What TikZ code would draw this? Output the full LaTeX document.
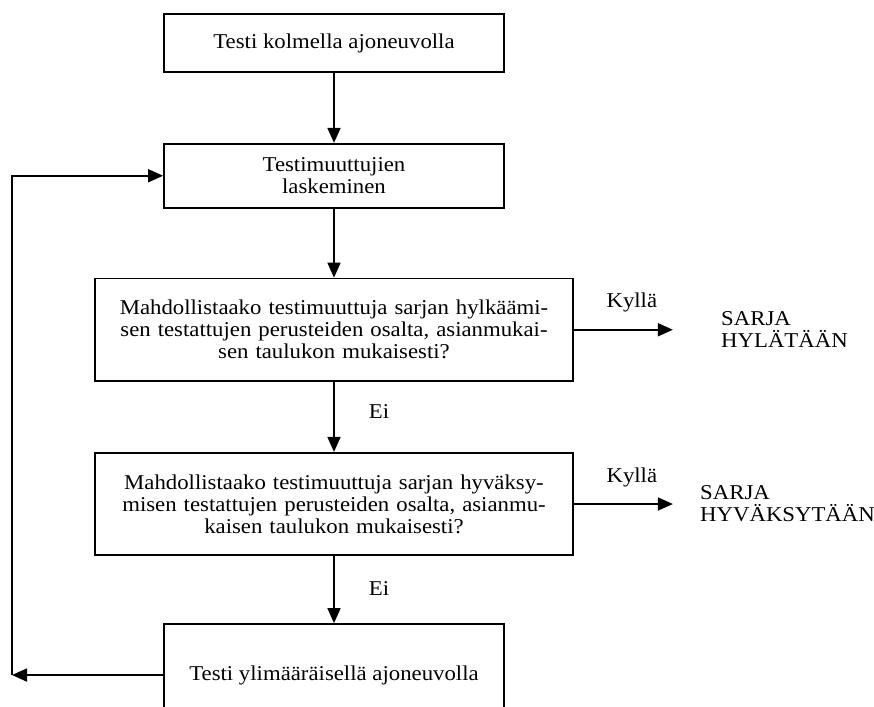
\documentclass[tikz,border=0pt]{standalone}
\usepackage{fontspec}
\setmainfont{Liberation Serif}[FakeStretch=1.08]
\usetikzlibrary{arrows.meta,positioning}
\tikzset{
  >={Triangle[length=3mm,width=2.6mm]},
  process/.style={draw,line width=1pt,minimum width=6.8cm,align=center,inner sep=0pt,font=\fontsize{12}{12.5}\selectfont},
  question/.style={draw,line width=1pt,minimum width=9.56cm,minimum height=2.05cm,text width=8.7cm,align=center,inner sep=0pt,font=\fontsize{12}{12.5}\selectfont},
  flow/.style={->,line width=1pt},
  answer/.style={font=\fontsize{12}{12.5}\selectfont,inner sep=2pt},
  verdict/.style={font=\fontsize{12}{12.5}\selectfont,align=left,anchor=west,inner sep=0pt},
}
\begin{document}
\begin{tikzpicture}
  \clip (0,0) rectangle (17.48,-14.14);
  % boxes
  \node[process,minimum height=1.16cm] (kolme) at (6.68,-0.86) {Testi kolmella ajoneuvolla};
  \node[process,minimum height=1.28cm,below=1.4cm of kolme] (lask) {Testimuuttujien\\laskeminen};
  \node[question,below=1.38cm of lask] (hylk) {Mahdollistaako testimuuttuja sarjan hylkäämi-\\sen testattujen perusteiden osalta, asianmukai-\\sen taulukon mukaisesti?};
  \node[question,below=1.4cm of hylk] (hyv) {Mahdollistaako testimuuttuja sarjan hyväksy-\\misen testattujen perusteiden osalta, asianmu-\\kaisen taulukon mukaisesti?};
  \node[process,minimum height=2.04cm,below=1.34cm of hyv] (ylim) {Testi ylimääräisellä ajoneuvolla};
  % outcomes
  \coordinate[right=1.98cm of hylk] (hylEnd);
  \coordinate[right=1.98cm of hyv] (hyvEnd);
  \node[verdict,right=0.96cm of hylEnd] (hylatty) {SARJA\\HYLÄTÄÄN};
  \node[verdict,right=0.54cm of hyvEnd] (hyvaksytty) {SARJA\\HYVÄKSYTÄÄN};
  % connectors
  \draw[flow] (kolme) -- (lask);
  \draw[flow] (lask) -- (hylk);
  \draw[flow] (hylk) -- node[answer,right=0.61cm,pos=0.43] {Ei} (hyv);
  \draw[flow] (hyv) -- node[answer,right=0.61cm,pos=0.48] {Ei} (ylim);
  \draw[flow] (hylk) -- node[answer,above=0.26cm,xshift=0.17cm] {Kyllä} (hylEnd);
  \draw[flow] (hyv) -- node[answer,above=0.26cm,xshift=0.17cm] {Kyllä} (hyvEnd);
  % back to the start
  \coordinate (paluu) at (0.24,0);
  \draw[flow] (ylim.west) -- (ylim.west -| paluu);
  \draw[flow] (ylim.west -| paluu) |- (lask.west);
\end{tikzpicture}
\end{document}
